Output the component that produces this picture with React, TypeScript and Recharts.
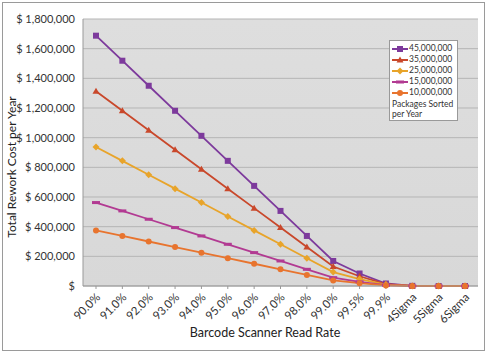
import React from 'react';
import {
  LineChart,
  Line,
  XAxis,
  YAxis,
  CartesianGrid
} from 'recharts';

const rates = [
  '90.0%', '91.0%', '92.0%', '93.0%', '94.0%', '95.0%', '96.0%', '97.0%',
  '98.0%', '99.0%', '99.5%', '99.9%', '4Sigma', '5Sigma', '6Sigma'
];

const pkg45 = [1687500, 1518750, 1350000, 1181250, 1012500, 843750, 675000, 506250, 337500, 168750, 84375, 16875, 1070, 10, 0];
const pkg35 = [1312500, 1181250, 1050000, 918750, 787500, 656250, 525000, 393750, 262500, 131250, 65625, 13125, 830, 8, 0];
const pkg25 = [937500, 843750, 750000, 656250, 562500, 468750, 375000, 281250, 187500, 93750, 46875, 9375, 590, 5, 0];
const pkg15 = [562500, 506250, 450000, 393750, 337500, 281250, 225000, 168750, 112500, 56250, 28125, 5625, 360, 3, 0];
const pkg10 = [375000, 337500, 300000, 262500, 225000, 187500, 150000, 112500, 75000, 37500, 18750, 3750, 240, 2, 0];

const yTicks = [0, 200000, 400000, 600000, 800000, 1000000, 1200000, 1400000, 1600000, 1800000];

const series = [
  { key: 'p45', name: '45,000,000', color: '#7d3a9c', shape: 'square', values: pkg45 },
  { key: 'p35', name: '35,000,000', color: '#c9482b', shape: 'triangle', values: pkg35 },
  { key: 'p25', name: '25,000,000', color: '#e8a42a', shape: 'diamond', values: pkg25 },
  { key: 'p15', name: '15,000,000', color: '#b23a92', shape: 'dash', values: pkg15 },
  { key: 'p10', name: '10,000,000', color: '#e8742e', shape: 'circle', values: pkg10 }
];

const data = rates.map((rate, i) => {
  const row: Record<string, string | number> = { rate };
  series.forEach(s => { row[s.key] = s.values[i]; });
  return row;
});

const FONT = 'Lato, "Open Sans", sans-serif';

function Marker({ cx, cy, color, shape }: { cx: number; cy: number; color: string; shape: string }) {
  if (cx == null || cy == null) return null;
  switch (shape) {
    case 'square':
      return <rect x={cx - 3} y={cy - 3} width={6} height={6} fill={color} />;
    case 'triangle':
      return <path d={`M${cx},${cy - 3.5} L${cx + 3.5},${cy + 2.5} L${cx - 3.5},${cy + 2.5} Z`} fill={color} />;
    case 'diamond':
      return <path d={`M${cx},${cy - 3.5} L${cx + 3.5},${cy} L${cx},${cy + 3.5} L${cx - 3.5},${cy} Z`} fill={color} />;
    case 'dash':
      return <rect x={cx - 4} y={cy - 1.5} width={8} height={3} fill={color} />;
    default:
      return <circle cx={cx} cy={cy} r={3} fill={color} />;
  }
}

function XTick({ x, y, payload }: any) {
  const ax = x + 5;
  const ay = y + 8;
  return (
    <text
      x={ax}
      y={ay}
      transform={`rotate(-45 ${ax} ${ay})`}
      textAnchor="end"
      fontSize={11.5}
      fill="#333"
      fontFamily={FONT}
    >
      {payload.value}
    </text>
  );
}

function fmtMoney(v: number) {
  return v === 0 ? '$' : '$ ' + v.toLocaleString('en-US');
}

function LegendBox() {
  return (
    <div
      style={{
        position: 'absolute',
        left: 389,
        top: 40,
        background: '#fff',
        border: '1px solid #999',
        padding: '2px 2px 1px 2px',
        fontFamily: FONT,
        fontSize: 8.5,
        color: '#333',
        lineHeight: '11px',
        width: 63
      }}
    >
      {series.map(s => (
        <div key={s.key} style={{ display: 'flex', alignItems: 'center', height: 11 }}>
          <svg width={16} height={10} style={{ marginRight: 1 }}>
            <line x1={0} y1={5} x2={16} y2={5} stroke={s.color} strokeWidth={2} />
            <Marker cx={8} cy={5} color={s.color} shape={s.shape} />
          </svg>
          <span>{s.name}</span>
        </div>
      ))}
      <div style={{ marginTop: 1, lineHeight: '10px' }}>Packages Sorted per Year</div>
    </div>
  );
}

export default function App() {
  return (
    <div style={{ position: 'absolute', left: 0, top: 0, width: 488, height: 354, background: '#fff' }}>
      <div
        style={{
          position: 'absolute',
          left: 2,
          top: 2,
          width: 481,
          height: 347,
          border: '1px solid #9a9a9a'
        }}
      />
      <LineChart
        width={488}
        height={354}
        data={data}
        margin={{ top: 19, right: 10, left: 0, bottom: 8 }}
        style={{ position: 'absolute', left: 0, top: 0 }}
      >
        <defs>
          <linearGradient id="plotBg" x1="0" y1="0" x2="0" y2="1">
            <stop offset="0%" stopColor="#dedede" />
            <stop offset="100%" stopColor="#d8d8d8" />
          </linearGradient>
        </defs>
        <CartesianGrid vertical={false} stroke="#b5b5b5" fill="url(#plotBg)" />
        <XAxis
          dataKey="rate"
          interval={0}
          height={60}
          padding={{ left: 13, right: 13 }}
          tick={<XTick />}
          tickSize={3}
          tickMargin={1}
          stroke="#999"
          label={{
            content: () => (
              <text x={265} y={337} textAnchor="middle" fontSize={12.5} fill="#222" fontFamily={FONT}>
                Barcode Scanner Read Rate
              </text>
            )
          }}
        />
        <YAxis
          width={83}
          domain={[0, 1800000]}
          ticks={yTicks}
          tickFormatter={fmtMoney}
          tickLine={false}
          stroke="#999"
          tick={{ fontSize: 11, fill: '#333', fontFamily: FONT }}
          label={{
            content: () => (
              <text
                x={16}
                y={167}
                transform="rotate(-90 16 167)"
                textAnchor="middle"
                fontSize={12}
                fill="#222"
                fontFamily={FONT}
              >
                Total Rework Cost per Year
              </text>
            )
          }}
        />
        <YAxis yAxisId="edge" orientation="right" width={0} tick={false} tickLine={false} stroke="#aaa" />
        {series.map(s => (
          <Line
            key={s.key}
            dataKey={s.key}
            name={s.name}
            stroke={s.color}
            strokeWidth={1.8}
            isAnimationActive={false}
            dot={(p: any) => <Marker key={`${s.key}-${p.index}`} cx={p.cx} cy={p.cy} color={s.color} shape={s.shape} />}
          />
        ))}
      </LineChart>
      <LegendBox />
    </div>
  );
}
